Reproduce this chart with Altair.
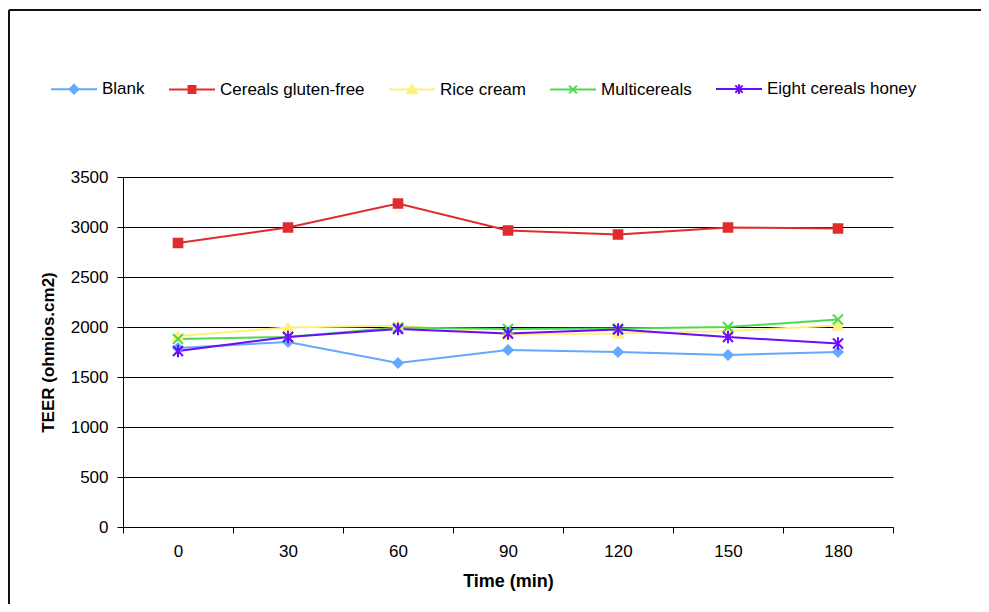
import altair as alt
import pandas as pd

# ---- data ----
times = ["0", "30", "60", "90", "120", "150", "180"]
series_names = ["Blank", "Cereals gluten-free", "Rice cream", "Multicereals", "Eight cereals honey"]
blank = [1790, 1850, 1640, 1770, 1750, 1720, 1750]
gluten_free = [2840, 2995, 3235, 2965, 2925, 2995, 2985]
rice_cream = [1910, 1995, 2015, 1925, 1935, 1960, 2015]
multicereals = [1880, 1900, 1995, 1980, 1985, 2000, 2075]
eight_cereals_honey = [1760, 1900, 1980, 1935, 1975, 1900, 1835]
y_ticks = [0, 500, 1000, 1500, 2000, 2500, 3000, 3500]

colors = ["#63A9FF", "#E02C2E", "#FFF07A", "#4FD94F", "#6A0AFF"]
# chart markers and their sizes
marker_shapes = [
    "diamond",
    "square",
    "triangle-up",
    "M-1,-1L1,1M-1,1L1,-1",
    "M-1,-1L1,1M-1,1L1,-1M0,-1.25V1.25",
]
marker_sizes = [85, 75, 85, 100, 100]
# legend symbols: line + marker
legend_shapes = [
    "M-1,0H1M0,-0.19L0.19,0L0,0.19L-0.19,0Z",
    "M-1,0H1M-0.15,-0.15H0.15V0.15H-0.15Z",
    "M-1,0H1M0,-0.19L0.2,0.16H-0.2Z",
    "M-1,0H1M-0.17,-0.17L0.17,0.17M-0.17,0.17L0.17,-0.17",
    "M-1,0H1M-0.16,-0.16L0.16,0.16M-0.16,0.16L0.16,-0.16M0,-0.21V0.21",
]

all_values = [blank, gluten_free, rice_cream, multicereals, eight_cereals_honey]
rows = []
for name, vals in zip(series_names, all_values):
    for t, v in zip(times, vals):
        rows.append({"time": t, "teer": v, "series": name})
df = pd.DataFrame(rows)

FONT = "Liberation Sans"

x_enc = alt.X(
    "time:N",
    sort=times,
    scale=alt.Scale(domain=times, paddingInner=0, paddingOuter=0),
    axis=alt.Axis(
        title="Time (min)",
        tickBand="extent",
        labelAngle=0,
        grid=False,
        domainColor="black",
        tickColor="black",
        tickSize=6,
        labelPadding=10,
        titlePadding=13,
        titleFontSize=18,
    ),
)
y_enc = alt.Y(
    "teer:Q",
    scale=alt.Scale(domain=[0, 3500], nice=False),
    axis=alt.Axis(
        title="TEER (ohmios.cm2)",
        values=y_ticks,
        format="d",
        grid=True,
        gridColor="black",
        gridWidth=1.2,
        gridOpacity=1,
        domainColor="black",
        tickColor="black",
        tickSize=6,
        labelPadding=9,
        titlePadding=13,
        titleFontSize=17,
    ),
)

fill_scale = alt.Scale(domain=series_names, range=colors)
stroke_scale = alt.Scale(domain=series_names, range=colors)

legend = alt.Legend(
    title=None,
    orient="none",
    direction="horizontal",
    legendX=-73,
    legendY=-112,
)

base = alt.Chart(df)

# hidden layer that only provides the legend (line + marker symbols)
legend_layer = base.transform_filter("false").mark_point(
    filled=True, opacity=1, strokeWidth=2
).encode(
    x=x_enc,
    y=y_enc,
    shape=alt.Shape("series:N", scale=alt.Scale(domain=series_names, range=legend_shapes), legend=legend),
    fill=alt.Fill("series:N", scale=fill_scale, legend=legend),
    stroke=alt.Stroke("series:N", scale=stroke_scale, legend=legend),
)

lines = base.mark_line(strokeWidth=2).encode(
    x=x_enc,
    y=y_enc,
    stroke=alt.Stroke("series:N", scale=stroke_scale, legend=legend),
    detail="series:N",
)

point_layers = []
for name, shp, sz in zip(series_names, marker_shapes, marker_sizes):
    point_layers.append(
        base.transform_filter(alt.datum.series == name)
        .mark_point(shape=shp, filled=True, opacity=1, size=sz, strokeWidth=2)
        .encode(
            x=x_enc,
            y=y_enc,
            fill=alt.Fill("series:N", scale=fill_scale, legend=legend),
            stroke=alt.Stroke("series:N", scale=stroke_scale, legend=legend),
        )
    )

frame_data = alt.Data(values=[{"k": 1}])
frame_left = alt.Chart(frame_data).mark_rule(color="#111111", strokeWidth=2).encode(
    x=alt.value(-114), y=alt.value(-167), y2=alt.value(440)
)
frame_top = alt.Chart(frame_data).mark_rule(color="#111111", strokeWidth=2).encode(
    x=alt.value(-114), x2=alt.value(870), y=alt.value(-167)
)

chart = alt.layer(legend_layer, lines, *point_layers, frame_left, frame_top).properties(
    width=770,
    height=350,
    autosize=alt.AutoSizeParams(type="none"),
    padding={"left": 115, "top": 169, "right": 88, "bottom": 77},
).configure_view(stroke=None).configure_axis(
    labelFont=FONT,
    titleFont=FONT,
    labelFontSize=17,
    titleFontWeight="bold",
    labelColor="black",
    titleColor="black",
).configure_legend(
    labelFont=FONT,
    labelFontSize=17,
    labelColor="black",
    symbolSize=2116,
    symbolStrokeWidth=2,
    labelOffset=4,
    columnPadding=20,
    padding=0,
)

chart.save("out.html", embed_options={"renderer": "svg", "actions": False})
